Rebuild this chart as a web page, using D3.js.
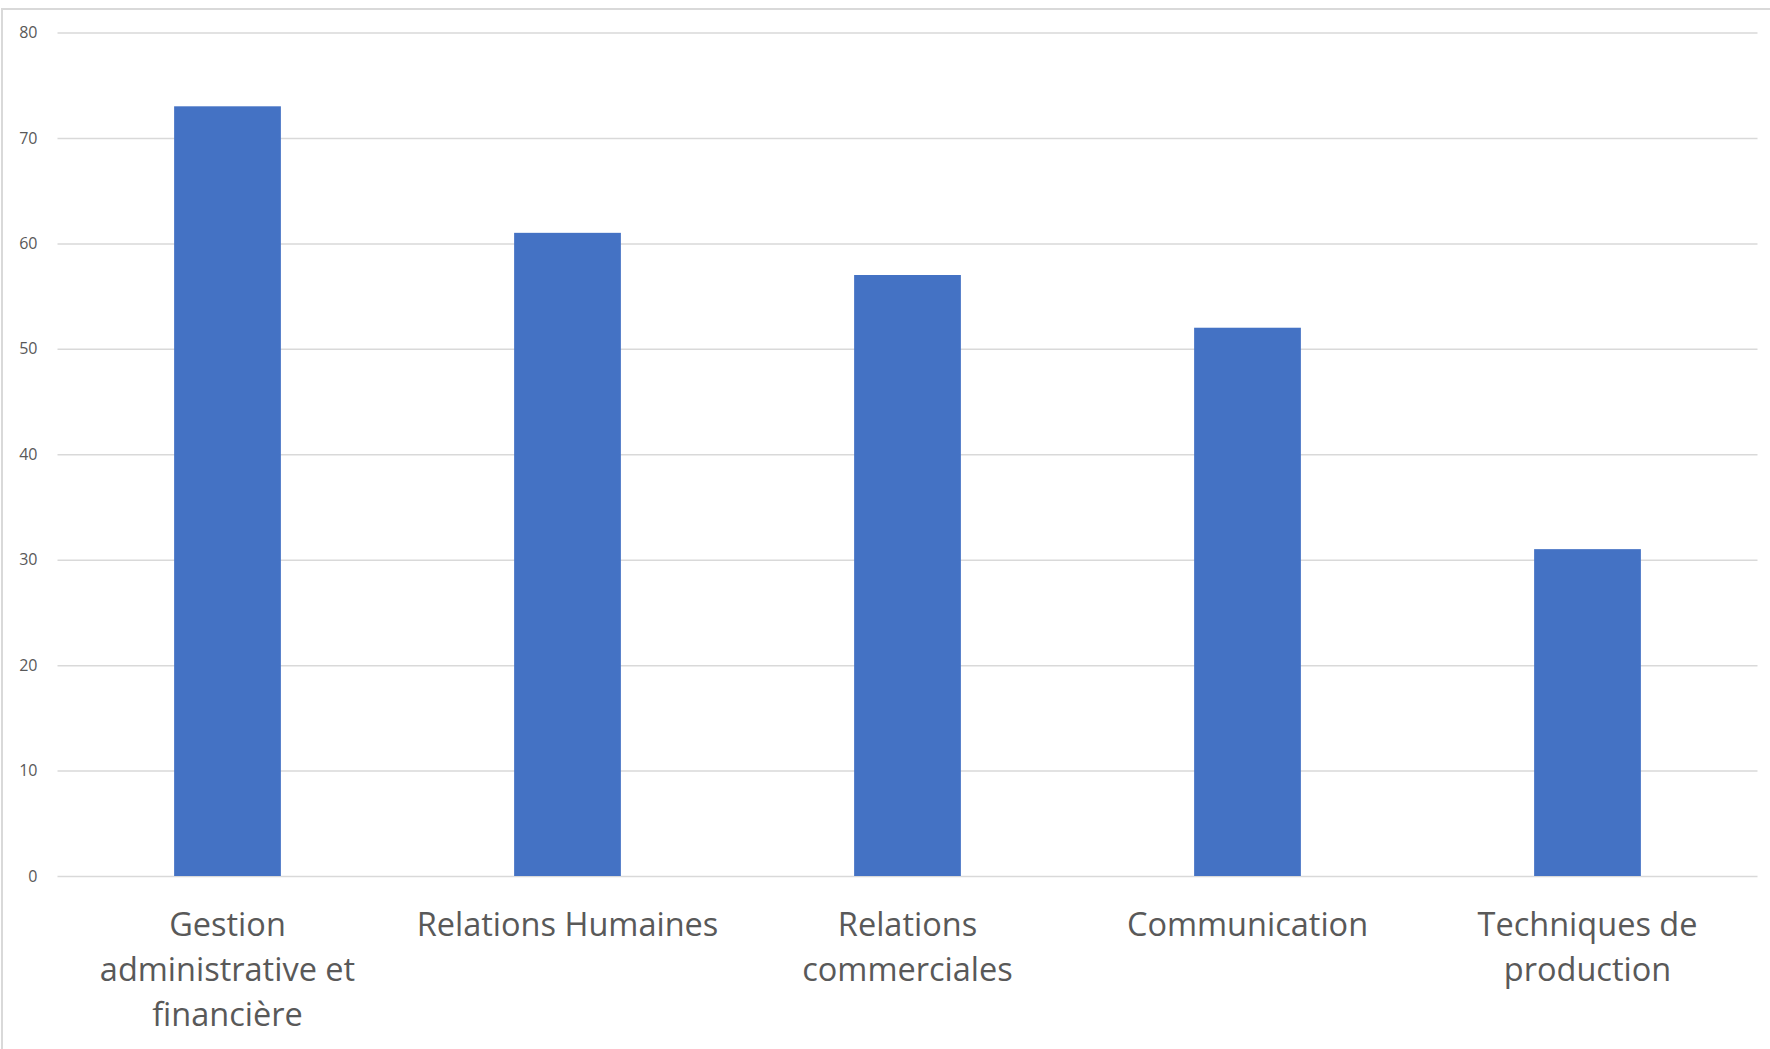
<!DOCTYPE html>
<html>
<head>
<meta charset="utf-8">
<script src="https://cdnjs.cloudflare.com/ajax/libs/d3/7.8.5/d3.min.js"></script>
<style>
  html, body { margin: 0; padding: 0; background: #fff; }
  svg { display: block; }
</style>
</head>
<body>
<svg id="chart" width="1770" height="1049"></svg>
<script>
const categories = [
  ["Gestion", "administrative et", "financière"],
  ["Relations Humaines"],
  ["Relations", "commerciales"],
  ["Communication"],
  ["Techniques de", "production"]
];
const values = [73, 61, 57, 52, 31];
const yTicks = [0, 10, 20, 30, 40, 50, 60, 70, 80];

(function () {
const W = 1770, H = 1049;
const svg = d3.select("#chart");

// chart border (top and left visible)
svg.append("rect")
  .attr("x", 2).attr("y", 9)
  .attr("width", W + 10).attr("height", H + 10)
  .attr("fill", "none").attr("stroke", "#d9d9d9").attr("stroke-width", 2);

const mLeft = 57.5, mRight = 1757.5, mTop = 32.5, mBottom = 876;
const ids = categories.map((c, i) => i);
const x = d3.scaleBand().domain(ids).range([mLeft, mRight]).paddingInner(0.686).paddingOuter(0.343);
const y = d3.scaleLinear().domain([0, 80]).range([mBottom, mTop]);

// gridlines
const yAxis = d3.axisLeft(y).tickValues(yTicks).tickSize(-(mRight - mLeft)).tickPadding(20);
const gy = svg.append("g").attr("transform", `translate(${mLeft},0)`).call(yAxis);
gy.select(".domain").remove();
gy.selectAll(".tick line").attr("stroke", "#d9d9d9").attr("stroke-width", 1.5);
gy.selectAll(".tick text")
  .attr("fill", "#595959")
  .style("font-family", "'Open Sans', sans-serif")
  .style("font-size", "16px");

// bars
svg.append("g").selectAll("rect").data(values).join("rect")
  .attr("x", (d, i) => x(i))
  .attr("y", d => y(d))
  .attr("width", x.bandwidth())
  .attr("height", d => y(0) - y(d))
  .attr("fill", "#4472c4");

// x labels
const xl = svg.append("g").selectAll("text").data(categories).join("text")
  .attr("x", (d, i) => x(i) + x.bandwidth() / 2)
  .attr("y", 936)
  .attr("text-anchor", "middle")
  .attr("fill", "#595959")
  .style("font-family", "'Open Sans', sans-serif")
  .style("font-variant-ligatures", "none")
  .style("font-size", "32.5px");
xl.each(function(lines) {
  const t = d3.select(this);
  const cx = t.attr("x");
  lines.forEach((ln, j) => {
    t.append("tspan").attr("x", cx).attr("dy", j === 0 ? 0 : 45).text(ln);
  });
});
})();
</script>
</body>
</html>
